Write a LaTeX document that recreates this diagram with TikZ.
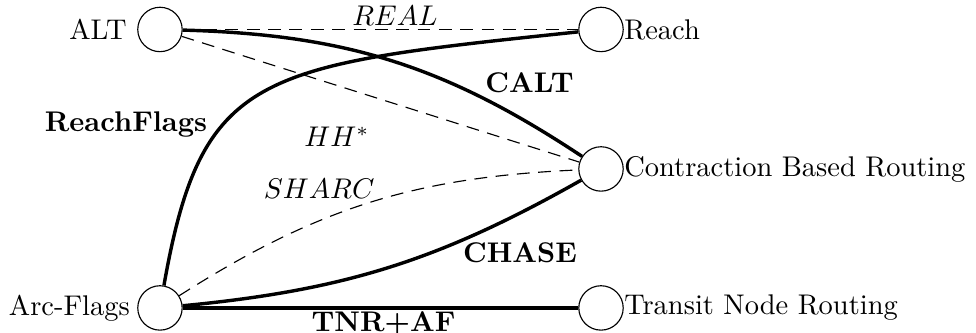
\documentclass[tikz,border=0pt]{standalone}
\begin{document}
\begin{tikzpicture}
	    \tikzset{vert/.style={draw, circle, inner sep=0pt, minimum size=15.6pt},
	      fast/.style={line width=1.2pt},
	      slow/.style={dash pattern=on 4.5pt off 3pt}}
	    \useasboundingbox (0,0) rectangle (12.05,4.111);
	    \node[vert, label={[inner sep=0pt, label distance=3.5pt]left:ALT}] (alt) at (1.975,3.747) {};
	    \node[vert, label={[inner sep=0pt]right:Reach}] (reach) at (7.42,3.747) {};
	    \node[vert, label={[inner sep=0pt]right:Contraction Based Routing}] (cbr) at (7.42,2.025) {};
	    \node[vert, label={[inner sep=0pt]right:Transit Node Routing}] (tnr) at (7.42,0.309) {};
	    \node[vert, label={[inner sep=0pt, label distance=2.4pt]left:Arc-Flags}] (af) at (1.975,0.309) {};
	    \draw[slow] (alt) -- (reach);
	    \draw[slow] (alt) -- (cbr);
	    \draw[slow] (af) to[bend left=15] (cbr);
	    \draw[fast] (alt) to[bend left=16] (cbr);
	    \draw[fast] (af) to[bend right=12] (cbr);
	    \draw[fast] (af) to[out=80, in=186, out looseness=1.15, in looseness=1.7] (reach);
	    \draw[fast] (af) -- (tnr);
	    \node (lreal) at (4.877,3.914) {$REAL$};
	    \node (lhh) at (4.16,2.42) {$HH^*$};
	    \node (lsharc) at (3.94,1.78) {$SHARC$};
	    \node (lcalt) at (6.537,3.086) {\textbf{CALT}};
	    \node (lchase) at (6.42,0.988) {\textbf{CHASE}};
	    \node (lflags) at (1.556,2.568) {\textbf{ReachFlags}};
	    \node[anchor=base] (ltnraf) at (4.735,0.02) {\textbf{TNR+AF}};
	\end{tikzpicture}
\end{document}
